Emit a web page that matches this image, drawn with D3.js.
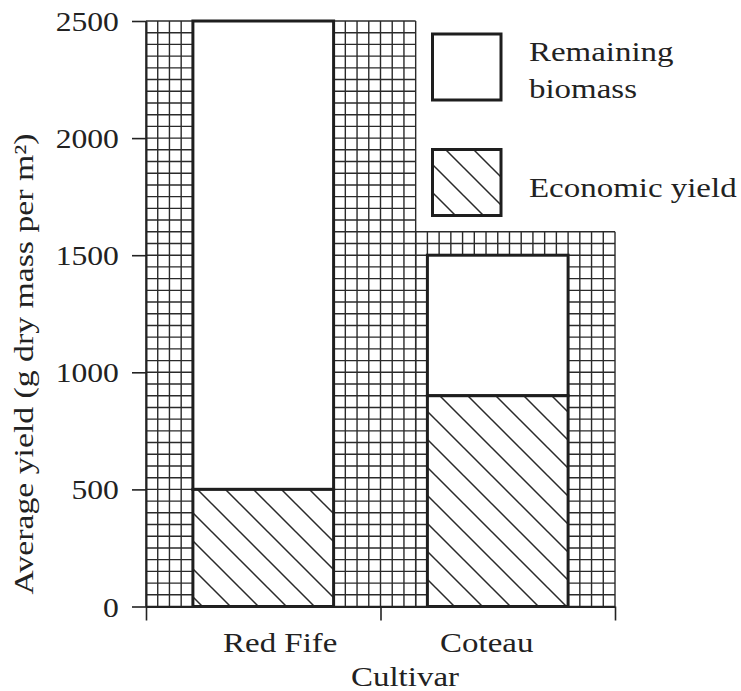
<!DOCTYPE html>
<html>
<head>
<meta charset="utf-8">
<script src="https://cdn.jsdelivr.net/npm/d3@7"></script>
<style>
    body { margin: 0; background: #fff; }
    text { font-family: "Liberation Serif", "Times New Roman", serif; fill: #222; }
</style>
</head>
<body>
<div id="chart"></div>
<script>
// Chart data
var cultivars = ["Red Fife", "Coteau"];
var economicYield = [500, 900];
var remainingBiomass = [2000, 600];
var yTicks = [0, 500, 1000, 1500, 2000, 2500];
var legendLabels = [["Remaining", "biomass"], ["Economic yield"]];

// Graph paper outline (column edges, top of each block in yield units)
var paperCols = [0, 23, 40];
var paperTops = [2500, 1600];

var svgWidth = 741;
var svgHeight = 691;

var svg = d3.select("#chart")
    .append("svg")
    .attr("width", svgWidth)
    .attr("height", svgHeight);

// Scales
var yScale = d3.scaleLinear().domain([0, 2500]).range([606.5, 21]);
var colScale = d3.scaleLinear().domain([0, 40]).range([146, 615]);
var xBand = d3.scaleBand()
    .domain(cultivars)
    .range([146, 615])
    .paddingInner(0.4)
    .paddingOuter(0.2);

// Hatch pattern for economic yield
var defs = svg.append("defs");
var hatch = defs.append("pattern")
    .attr("id", "hatch")
    .attr("patternUnits", "userSpaceOnUse")
    .attr("x", 16)
    .attr("y", 0)
    .attr("width", 28)
    .attr("height", 28);
hatch.append("rect").attr("width", 28).attr("height", 28).attr("fill", "#fff");
hatch.append("path")
    .attr("d", "M-14,14L14,42M0,0L28,28M14,-14L42,14")
    .attr("stroke", "#2a2a2a")
    .attr("stroke-width", 1.5);

// Graph paper grid
var gridGroup = svg.append("g")
    .attr("stroke", "#2a2a2a")
    .attr("stroke-width", 1.4);

paperTops.forEach(function(top, i) {
    var c0 = paperCols[i], c1 = paperCols[i + 1];
    d3.range(c0, c1 + 1).forEach(function(c) {
        gridGroup.append("line")
            .attr("x1", colScale(c)).attr("x2", colScale(c))
            .attr("y1", yScale(0)).attr("y2", yScale(top));
    });
    d3.range(0, top + 1, 50).forEach(function(v) {
        gridGroup.append("line")
            .attr("x1", colScale(c0)).attr("x2", colScale(c1))
            .attr("y1", yScale(v)).attr("y2", yScale(v));
    });
});

// Bars
var barGroup = svg.append("g")
    .attr("stroke", "#1e1e1e")
    .attr("stroke-width", 3);

cultivars.forEach(function(c, i) {
    var e = economicYield[i];
    var total = e + remainingBiomass[i];
    barGroup.append("rect")
        .attr("x", xBand(c))
        .attr("width", xBand.bandwidth())
        .attr("y", yScale(total))
        .attr("height", yScale(e) - yScale(total))
        .attr("fill", "#fff");
    barGroup.append("rect")
        .attr("x", xBand(c))
        .attr("width", xBand.bandwidth())
        .attr("y", yScale(e))
        .attr("height", yScale(0) - yScale(e))
        .attr("fill", "url(#hatch)");
});

// Y axis
var leftAxis = d3.axisLeft(yScale)
    .tickValues(yTicks)
    .tickSize(14)
    .tickSizeOuter(0)
    .tickFormat(d3.format("d"));

var yAxis = svg.append("g")
    .attr("transform", "translate(146,0)")
    .attr("color", "#222")
    .call(leftAxis);
yAxis.select(".domain").attr("stroke-width", 2);
yAxis.selectAll(".tick line").attr("stroke-width", 1.6);
yAxis.selectAll("text")
    .attr("font-family", "Liberation Serif, serif")
    .attr("font-size", 28)
    .attr("x", -24)
    .attr("dy", "0.34em")
    .attr("transform", "scale(1.13,1)");

// X axis (ticks at the category boundaries)
var bottomAxis = d3.axisBottom(colScale)
    .tickValues([0, 20, 40])
    .tickSize(14)
    .tickSizeOuter(0)
    .tickFormat("");

var xAxis = svg.append("g")
    .attr("transform", `translate(0, ${yScale(0)})`)
    .attr("color", "#222")
    .call(bottomAxis);
xAxis.select(".domain").attr("stroke-width", 2);
xAxis.selectAll(".tick line").attr("stroke-width", 1.6);

// helper for the wide serif text
function wideText(x, y, str, anchor, rotate, sx) {
    var g = svg.append("g")
        .attr("transform", `translate(${x},${y})` + (rotate ? " rotate(-90)" : ""));
    return g.append("text")
        .attr("text-anchor", anchor)
        .attr("font-size", 27)
        .attr("transform", `scale(${sx || 1.22},1)`)
        .text(str);
}

// Category labels
var labelNudge = [17, -11];
cultivars.forEach(function(c, i) {
    wideText(xBand(c) + xBand.bandwidth() / 2 + labelNudge[i], 651.5, c, "middle");
});

wideText(405, 686, "Cultivar", "middle");
wideText(33, 364, "Average yield (g dry mass per m²)", "middle", true, 1.25);

// Legend
var legendY = [34, 149.5];
legendLabels.forEach(function(lines, i) {
    svg.append("rect")
        .attr("x", 432.5)
        .attr("y", legendY[i])
        .attr("width", 68.5)
        .attr("height", 66)
        .attr("fill", i === 0 ? "#fff" : "url(#hatch)")
        .attr("stroke", "#1e1e1e")
        .attr("stroke-width", 3);
});
wideText(529, 60.5, legendLabels[0][0], "start");
wideText(529, 98, legendLabels[0][1], "start");
wideText(529, 196.5, legendLabels[1][0], "start");
</script>
</body>
</html>
